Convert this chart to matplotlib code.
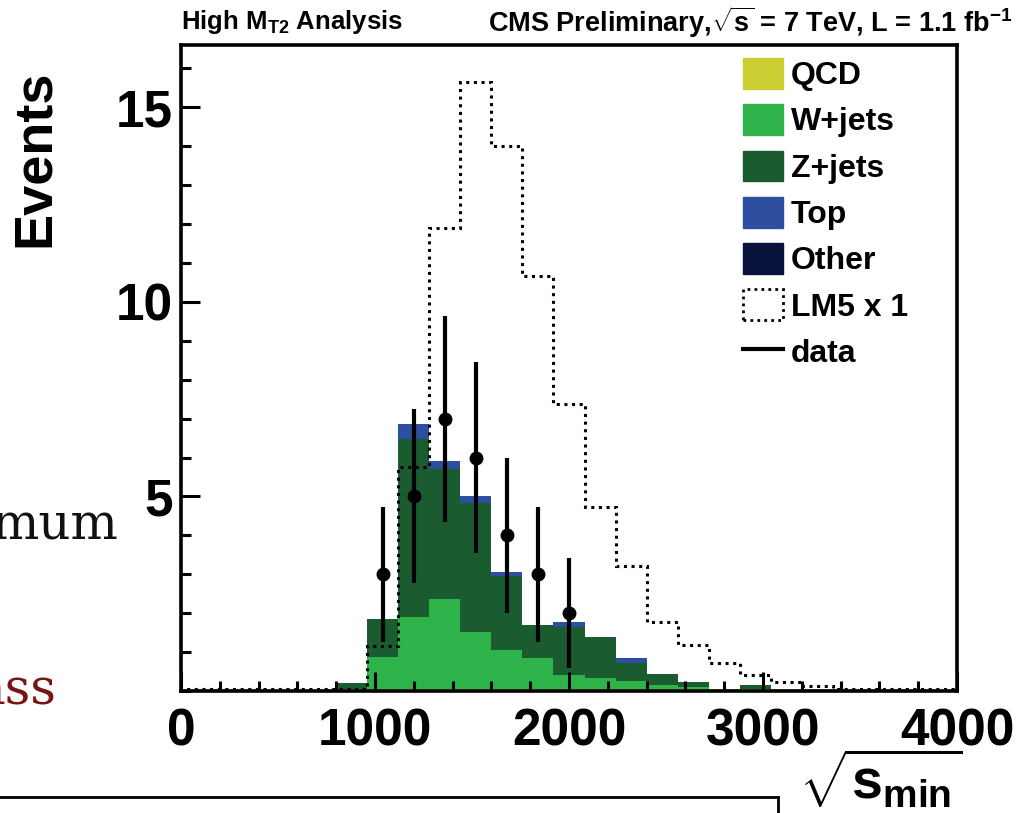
import numpy as np
import matplotlib.pyplot as plt
from matplotlib.patches import Patch
from matplotlib.lines import Line2D

plt.rcParams['font.family'] = ['Liberation Sans', 'DejaVu Sans']
plt.rcParams['font.weight'] = 'bold'
plt.rcParams['mathtext.fontset'] = 'custom'
plt.rcParams['mathtext.rm'] = 'Liberation Sans:bold'
plt.rcParams['mathtext.it'] = 'Liberation Sans:bold'
plt.rcParams['mathtext.bf'] = 'Liberation Sans:bold'

# ------------------------------
# data: 25 bins of 160 GeV, 0 - 4000
# ------------------------------
bin_edges = [0, 160, 320, 480, 640, 800, 960, 1120, 1280, 1440, 1600, 1760, 1920,
             2080, 2240, 2400, 2560, 2720, 2880, 3040, 3200, 3360, 3520, 3680, 3840, 4000]

qcd = [0.04, 0.04, 0.04, 0.04, 0.04, 0.04, 0.04, 0.04, 0.04, 0.04, 0.04, 0.04, 0.04,
       0.04, 0.04, 0.04, 0.04, 0.04, 0.04, 0.04, 0.04, 0.04, 0.04, 0.04, 0.04]
wjets = [0, 0, 0, 0, 0, 0, 0.84, 1.87, 2.32, 1.47, 1.01, 0.80, 0.37,
         0.30, 0.22, 0.11, 0.07, 0, 0, 0, 0, 0, 0, 0, 0]
zjets = [0, 0, 0, 0, 0, 0.17, 0.97, 4.56, 3.34, 3.33, 1.91, 0.86, 1.23,
         1.04, 0.47, 0.29, 0.12, 0, 0.11, 0, 0, 0, 0, 0, 0]
top = [0, 0, 0, 0, 0, 0, 0, 0.39, 0.22, 0.17, 0.11, 0, 0.13,
       0, 0.13, 0, 0, 0, 0, 0, 0, 0, 0, 0, 0]
other = [0, 0, 0, 0, 0, 0, 0, 0, 0, 0, 0, 0, 0,
         0, 0, 0, 0, 0, 0, 0, 0, 0, 0, 0, 0]
lm5 = [0.05, 0.05, 0.05, 0.05, 0.05, 0.05, 1.16, 5.75, 11.9, 15.65, 14.0, 10.66, 7.38,
       4.73, 3.21, 1.78, 1.18, 0.73, 0.41, 0.24, 0.13, 0.06, 0.06, 0.06, 0.06]
data = [0, 0, 0, 0, 0, 0, 3, 5, 7, 6, 4, 3, 2,
        0, 0, 0, 0, 0, 0, 0, 0, 0, 0, 0, 0]

labels = ['QCD', 'W+jets', 'Z+jets', 'Top', 'Other']
colors = ['#cccc33', '#2db34a', '#1a5c30', '#2e4fa0', '#08123d']

# ------------------------------
# figure
# ------------------------------
fig = plt.figure(figsize=(10.35, 8.13), dpi=100)
ax = fig.add_axes([181 / 1035, 1 - 691 / 813, 776 / 1035, 646 / 813])

edges = np.array(bin_edges, dtype=float)
bottom = np.zeros(len(edges) - 1)
for vals, c in zip([qcd, wjets, zjets, top, other], colors):
    upper = bottom + np.array(vals)
    ax.stairs(upper, edges, baseline=bottom, fill=True, color=c, linewidth=0)
    bottom = upper

ax.stairs(lm5, edges, color='black', linestyle=(0, (1, 1.5)), linewidth=2.2)

centers = 0.5 * (edges[:-1] + edges[1:])
d = np.array(data, dtype=float)
m = d > 0
ax.errorbar(centers[m], d[m], yerr=np.sqrt(d[m]), fmt='o', color='black',
            markersize=9, elinewidth=3, capsize=0, zorder=5)

ax.set_xlim(0, 4000)
ax.set_ylim(0, 16.6)
ax.set_xticks([0, 1000, 2000, 3000, 4000])
ax.set_xticks(np.arange(0, 4001, 200), minor=True)
ax.set_yticks([5, 10, 15])
ax.set_yticks(np.arange(0, 16.1, 1), minor=True)
ax.tick_params(which='both', direction='in', width=2.2, top=False, right=False)
ax.tick_params(which='major', length=14, labelsize=37)
ax.tick_params(which='minor', length=7)
ax.tick_params(axis='x', pad=12)
ax.tick_params(axis='y', pad=6)
for lab in ax.get_xticklabels() + ax.get_yticklabels():
    lab.set_fontweight('bold')
for s in ax.spines.values():
    s.set_linewidth(2.6)

ax.set_ylabel('Events', fontsize=39, fontweight='bold')
ax.yaxis.set_label_coords(-0.156, 0.825)

fig.text(962 / 1035, 1 - 780 / 813, r'$\sqrt{s_{min}}$', fontsize=40,
         ha='right', va='center')

fig.text(181 / 1035, 1 - 22 / 813, r'High M$_{T2}$ Analysis', fontsize=18.5,
         ha='left', va='center')
fig.text(1012 / 1035, 1 - 22 / 813, r'CMS Preliminary,$\sqrt{s}$ = 7 TeV, L = 1.1 fb$^{-1}$',
         fontsize=19.5, ha='right', va='center')

handles = [Patch(facecolor=c, edgecolor=c) for c in colors]
handles.append(Patch(facecolor='white', edgecolor='black', linestyle=(0, (1, 1.5)), linewidth=2))
handles.append(Line2D([0], [0], color='black', linewidth=3))
leg = ax.legend(handles, labels + ['LM5 x 1', 'data'], loc='upper left',
                bbox_to_anchor=(743 / 1035, 1 - 58 / 813), bbox_transform=fig.transFigure,
                frameon=False, fontsize=23, handlelength=1.25, handleheight=1.1,
                handletextpad=0.25, labelspacing=0.41, borderpad=0, borderaxespad=0)
for t in leg.get_texts():
    t.set_fontweight('bold')

# slide leftovers around the plot
fig.text(118 / 1035, 1 - 540 / 813, 'mum', fontsize=36, family='DejaVu Serif',
         fontweight='normal', ha='right', va='baseline', color='#111111')
fig.text(57 / 1035, 1 - 704 / 813, 'ass', fontsize=36, family='DejaVu Serif',
         fontweight='normal', ha='right', va='baseline', color='#7a1414')
fig.add_artist(Line2D([0, 778 / 1035], [1 - 797 / 813, 1 - 797 / 813],
                      transform=fig.transFigure, color='black', linewidth=2))
fig.add_artist(Line2D([778 / 1035, 778 / 1035], [1 - 797 / 813, 0],
                      transform=fig.transFigure, color='black', linewidth=2))

fig.savefig('out.png', dpi=100)
